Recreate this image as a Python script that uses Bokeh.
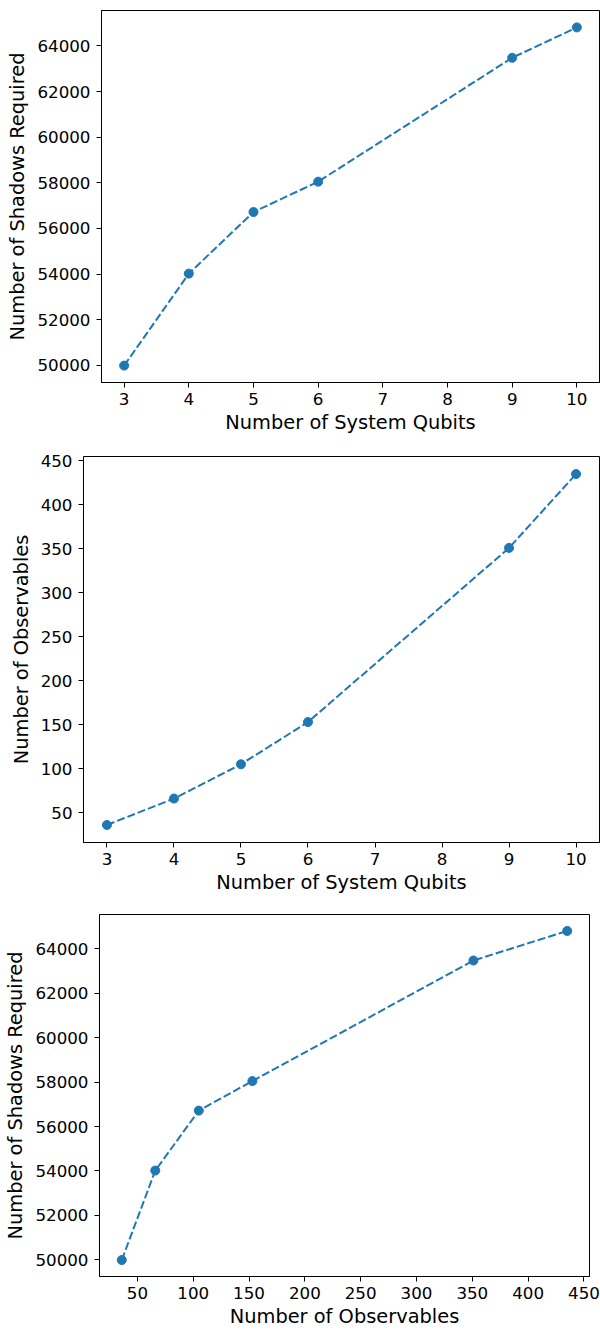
from bokeh.plotting import figure
from bokeh.models import Range1d, FixedTicker, BasicTickFormatter
from bokeh.embed import file_html
from bokeh.resources import INLINE

# ---- data ----
qubits = [3, 4, 5, 6, 9, 10]
shadows = [49990, 54020, 56720, 58050, 63480, 64810]
observables = [36, 66, 105, 153, 351, 435]

qubit_ticks = [3, 4, 5, 6, 7, 8, 9, 10]
shadow_ticks = [50000, 52000, 54000, 56000, 58000, 60000, 62000, 64000]
observable_ticks = [50, 100, 150, 200, 250, 300, 350, 400, 450]

BLUE = "#1f77b4"
FONT = "DejaVu Sans"


def padded(vals, frac=0.05):
    lo, hi = min(vals), max(vals)
    m = (hi - lo) * frac
    return Range1d(lo - m, hi + m)


def make(x, y, xlabel, ylabel, xt, yt, height, left, right, top, bottom):
    p = figure(width=600, height=height, x_range=padded(x), y_range=padded(y),
               output_backend="svg", toolbar_location=None,
               min_border_left=left, min_border_right=right,
               min_border_top=top, min_border_bottom=bottom)
    p.line(x, y, line_color=BLUE, line_width=2, line_dash="8 3")
    p.scatter(x, y, size=9, fill_color=BLUE, line_color=BLUE)
    p.grid.grid_line_color = None
    p.outline_line_color = "black"
    p.outline_line_alpha = 1
    p.outline_line_width = 1
    p.background_fill_color = "white"
    p.border_fill_color = "white"
    p.xaxis.ticker = FixedTicker(ticks=xt)
    p.yaxis.ticker = FixedTicker(ticks=yt)
    p.xaxis.axis_label = xlabel
    p.yaxis.axis_label = ylabel
    for ax in (p.xaxis, p.yaxis):
        ax.formatter = BasicTickFormatter(use_scientific=False)
        ax.axis_line_color = "black"
        ax.major_tick_line_color = "black"
        ax.major_tick_in = 0
        ax.major_tick_out = 5
        ax.minor_tick_line_color = None
        ax.major_label_text_font = FONT
        ax.major_label_text_font_size = "16.7px"
        ax.major_label_text_color = "black"
        ax.axis_label_text_font = FONT
        ax.axis_label_text_font_size = "19.4px"
        ax.axis_label_text_font_style = "normal"
        ax.axis_label_text_color = "black"
    p.xaxis.major_label_standoff = 5
    p.xaxis.axis_label_standoff = 3
    p.yaxis.major_label_standoff = 6
    p.yaxis.axis_label_standoff = 5
    return p


p1 = make(qubits, shadows, "Number of System Qubits", "Number of Shadows Required",
          qubit_ticks, shadow_ticks, 445, 101, 1, 10, 63)
p2 = make(qubits, observables, "Number of System Qubits", "Number of Observables",
          qubit_ticks, observable_ticks, 452, 83, 1, 11, 55)
p3 = make(observables, shadows, "Number of Observables", "Number of Shadows Required",
          observable_ticks, shadow_ticks, 433, 99, 11, 17, 50)

open("out.html", "w").write(file_html([p1, p2, p3], INLINE))
